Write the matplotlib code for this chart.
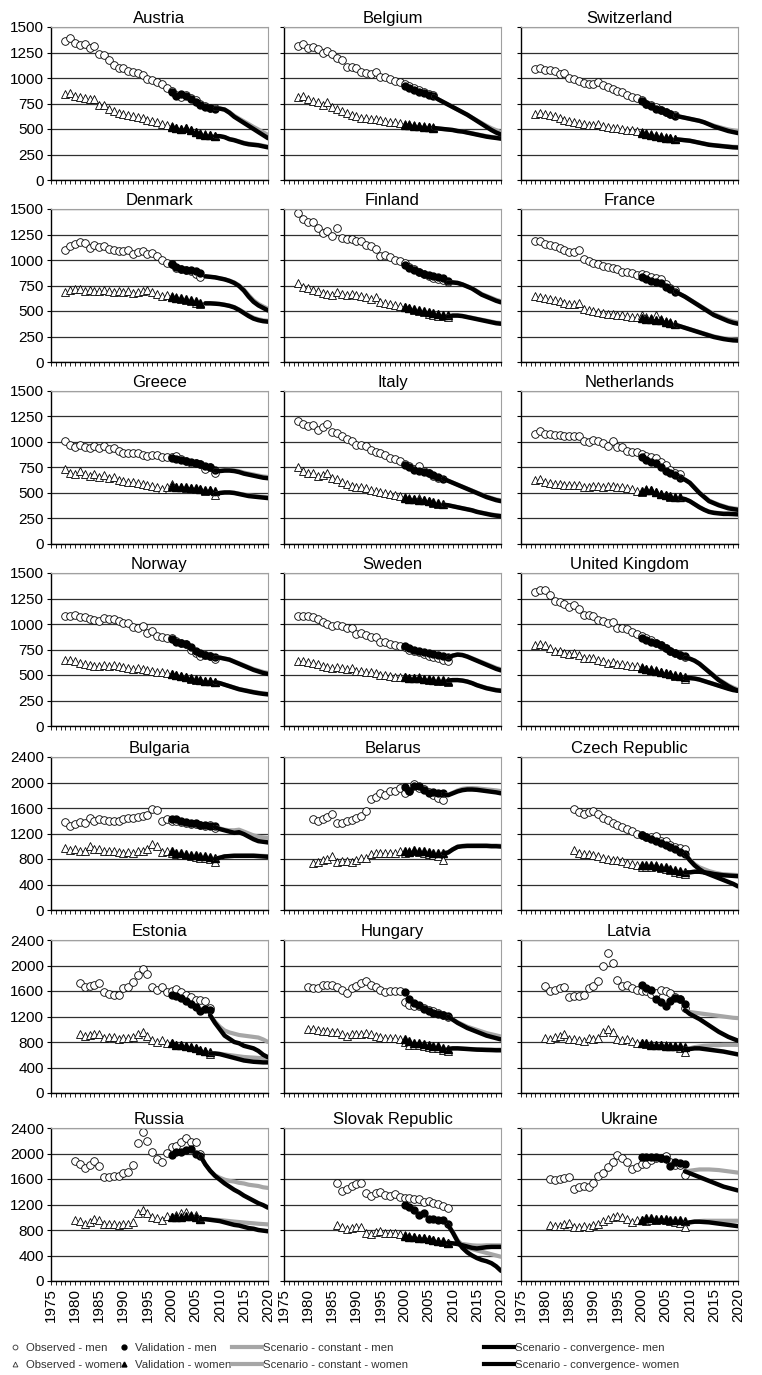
import matplotlib
matplotlib.use("Agg")
import matplotlib.pyplot as plt
from matplotlib.lines import Line2D
from matplotlib.ticker import MultipleLocator

plt.rcParams['font.family'] = ['Liberation Sans', 'DejaVu Sans']

countries = ["Austria", "Belgium", "Switzerland",
             "Denmark", "Finland", "France",
             "Greece", "Italy", "Netherlands",
             "Norway", "Sweden", "United Kingdom",
             "Bulgaria", "Belarus", "Czech Republic",
             "Estonia", "Hungary", "Latvia",
             "Russia", "Slovak Republic", "Ukraine"]

# first year of the observed series
obs_start = {"Austria": 1978, "Belgium": 1978, "Switzerland": 1978, "Denmark": 1978,
             "Finland": 1978, "France": 1978, "Greece": 1978, "Italy": 1978,
             "Netherlands": 1978, "Norway": 1978, "Sweden": 1978, "United Kingdom": 1978,
             "Bulgaria": 1978, "Belarus": 1981, "Czech Republic": 1986, "Estonia": 1981,
             "Hungary": 1980, "Latvia": 1980, "Russia": 1980, "Slovak Republic": 1986,
             "Ukraine": 1981}

obs_men = {
    "Austria": [1360, 1390, 1340, 1320, 1330, 1295, 1310, 1240, 1230, 1180, 1130, 1100, 1100, 1070, 1060, 1050,
                1030, 990, 980, 960, 940, 900, 870, 830, 810, 830, 800, 780, 750, 730, 710, 705],
    "Belgium": [1314, 1333, 1290, 1300, 1285, 1250, 1265, 1235, 1200, 1175, 1110, 1110, 1100, 1060, 1050, 1040,
                1060, 1010, 1010, 990, 975, 960, 940, 920, 900, 880, 860, 840, 830],
    "Switzerland": [1090, 1100, 1080, 1080, 1070, 1040, 1050, 1000, 990, 970, 950, 940, 940, 960, 930, 910,
                    890, 870, 860, 830, 810, 800, 780, 750, 740, 720, 690, 670, 650, 640],
    "Denmark": [1100, 1140, 1160, 1180, 1170, 1120, 1150, 1130, 1140, 1110, 1100, 1090, 1090, 1100, 1060, 1080,
                1090, 1060, 1070, 1040, 1000, 970, 960, 920, 910, 900, 890, 860, 830],
    "Finland": [1460, 1400, 1370, 1370, 1310, 1260, 1280, 1240, 1310, 1220, 1210, 1210, 1190, 1190, 1150, 1140,
                1110, 1040, 1050, 1030, 1000, 990, 970, 930, 910, 880, 860, 840, 820, 810, 800, 780],
    "France": [1185, 1190, 1160, 1150, 1140, 1120, 1100, 1080, 1080, 1100, 1010, 990, 970, 960, 940, 930,
               920, 910, 880, 880, 870, 850, 860, 850, 830, 820, 810, 760, 730, 710],
    "Greece": [1010, 970, 950, 975, 950, 940, 960, 940, 960, 930, 940, 910, 890, 890, 890, 890,
               870, 860, 870, 870, 850, 850, 850, 860, 830, 810, 790, 790, 780, 740, 750, 700],
    "Italy": [1210, 1180, 1160, 1170, 1120, 1150, 1180, 1100, 1090, 1060, 1030, 1010, 970, 970, 960, 920,
              900, 890, 870, 840, 830, 810, 780, 760, 740, 760, 720, 700, 670, 650],
    "Netherlands": [1080, 1110, 1080, 1080, 1070, 1070, 1060, 1060, 1060, 1060, 1010, 1000, 1020, 1010, 990, 960,
                    1010, 950, 950, 910, 900, 900, 880, 860, 850, 840, 800, 770, 730, 700, 690],
    "Norway": [1080, 1080, 1090, 1070, 1070, 1050, 1040, 1030, 1060, 1050, 1050, 1030, 1010, 1010, 970, 960,
               980, 910, 930, 880, 870, 860, 860, 830, 810, 800, 750, 720, 690, 700, 690, 660],
    "Sweden": [1080, 1080, 1080, 1070, 1050, 1020, 1000, 980, 990, 980, 960, 960, 900, 910, 890, 870,
               870, 820, 820, 800, 790, 780, 770, 750, 740, 730, 710, 690, 680, 670, 650, 640],
    "United Kingdom": [1310, 1330, 1330, 1280, 1230, 1220, 1200, 1170, 1190, 1150, 1090, 1090, 1080, 1040, 1030,
                       1010, 1020, 960, 960, 950, 920, 900, 880, 860, 840, 810, 790, 760, 740, 720, 700, 680],
    "Bulgaria": [1380, 1310, 1350, 1380, 1360, 1440, 1400, 1420, 1410, 1400, 1390, 1390, 1420, 1440, 1450, 1460,
                 1470, 1490, 1580, 1570, 1400, 1420, 1400, 1390, 1380, 1370, 1350, 1350, 1340, 1320, 1330, 1280],
    "Belarus": [1430, 1400, 1430, 1460, 1500, 1360, 1370, 1390, 1410, 1440, 1480, 1560, 1740, 1770, 1830, 1800,
                1860, 1870, 1920, 1830, 1870, 1980, 1920, 1900, 1850, 1800, 1760, 1730],
    "Czech Republic": [1580, 1540, 1510, 1530, 1560, 1500, 1450, 1410, 1370, 1340, 1300, 1270, 1240, 1200, 1180,
                       1150, 1140, 1160, 1090, 1080, 1020, 990, 970, 960],
    "Estonia": [1720, 1660, 1680, 1700, 1720, 1580, 1550, 1540, 1530, 1640, 1660, 1740, 1850, 1950, 1860, 1670,
                1610, 1670, 1590, 1600, 1630, 1590, 1540, 1510, 1460, 1460, 1450, 1340],
    "Hungary": [1660, 1650, 1650, 1700, 1690, 1690, 1670, 1620, 1570, 1640, 1680, 1720, 1750, 1700, 1670, 1620,
                1590, 1600, 1600, 1600, 1430, 1380, 1360, 1360, 1330, 1300, 1280, 1250, 1220, 1200],
    "Latvia": [1680, 1600, 1620, 1650, 1660, 1500, 1520, 1520, 1540, 1650, 1680, 1760, 2000, 2190, 2040, 1770,
               1680, 1690, 1650, 1620, 1600, 1600, 1560, 1570, 1610, 1600, 1570, 1500, 1470, 1330],
    "Russia": [1880, 1840, 1780, 1820, 1880, 1810, 1630, 1630, 1640, 1650, 1700, 1710, 1820, 2170, 2330, 2200,
               2030, 1910, 1870, 2010, 2100, 2120, 2180, 2250, 2180, 2180, 2000],
    "Slovak Republic": [1530, 1410, 1450, 1490, 1520, 1530, 1380, 1340, 1380, 1390, 1350, 1340, 1360, 1320, 1300,
                        1300, 1290, 1290, 1240, 1260, 1230, 1210, 1180, 1140],
    "Ukraine": [1600, 1580, 1600, 1610, 1630, 1450, 1480, 1490, 1480, 1540, 1640, 1700, 1790, 1870, 1970, 1930,
                1870, 1750, 1790, 1840, 1830, 1900, 1930, 1930, 1960, 1870, 1820, 1820, 1670],
}

obs_women = {
    "Austria": [845, 850, 820, 810, 800, 790, 790, 740, 740, 700, 680, 660, 650, 640, 630, 620,
                610, 590, 580, 570, 550, 540, 530, 510, 500, 510, 490, 470, 460, 450, 440, 430],
    "Belgium": [810, 820, 790, 770, 760, 740, 760, 720, 700, 680, 660, 640, 630, 610, 610, 600,
                600, 590, 580, 570, 570, 560, 550, 545, 540, 530, 525, 520, 515],
    "Switzerland": [650, 655, 650, 640, 625, 610, 590, 575, 565, 555, 545, 540, 540, 550, 530, 520,
                    510, 505, 500, 495, 490, 480, 470, 460, 450, 440, 430, 420, 415, 405],
    "Denmark": [690, 710, 720, 720, 700, 710, 700, 700, 710, 700, 690, 700, 690, 700, 680, 690,
                700, 710, 690, 670, 650, 660, 650, 640, 620, 610, 600, 580, 570],
    "Finland": [770, 740, 730, 710, 700, 680, 670, 660, 690, 670, 660, 670, 660, 650, 640, 620,
                640, 590, 580, 570, 560, 550, 540, 530, 510, 500, 490, 470, 460, 450, 450, 440],
    "France": [645, 640, 625, 620, 610, 600, 580, 570, 570, 580, 520, 510, 500, 490, 480, 475,
               470, 460, 460, 450, 445, 440, 460, 440, 430, 460, 420, 400, 390, 370],
    "Greece": [740, 700, 690, 720, 690, 670, 690, 660, 680, 650, 660, 630, 620, 610, 610, 600,
               590, 580, 570, 560, 540, 560, 590, 560, 560, 550, 550, 540, 540, 520, 530, 480],
    "Italy": [750, 720, 700, 700, 670, 680, 700, 650, 640, 610, 590, 570, 560, 560, 550, 530,
              520, 510, 500, 490, 480, 470, 460, 450, 440, 450, 430, 420, 400, 390],
    "Netherlands": [630, 640, 610, 600, 590, 590, 580, 580, 580, 580, 560, 560, 570, 570, 560, 570,
                    570, 560, 560, 550, 540, 520, 510, 540, 530, 510, 490, 480, 460, 460, 460],
    "Norway": [650, 650, 640, 620, 610, 600, 590, 590, 600, 590, 600, 590, 580, 570, 560, 570,
               560, 550, 540, 530, 530, 520, 510, 500, 490, 480, 460, 450, 450, 440, 440, 430],
    "Sweden": [640, 640, 630, 620, 610, 590, 580, 570, 580, 570, 560, 570, 540, 540, 530, 530,
               520, 500, 500, 490, 480, 480, 480, 470, 470, 480, 460, 450, 450, 440, 440, 430],
    "United Kingdom": [790, 800, 790, 760, 740, 740, 720, 710, 720, 700, 670, 670, 670, 650, 640, 620,
                       630, 610, 610, 600, 590, 590, 580, 560, 560, 550, 530, 520, 510, 490, 490, 460],
    "Bulgaria": [970, 940, 950, 930, 920, 1000, 960, 950, 930, 920, 920, 910, 900, 910, 900, 920,
                 930, 960, 1030, 1000, 910, 920, 900, 880, 870, 860, 840, 830, 820, 810, 800, 760],
    "Belarus": [740, 750, 780, 800, 840, 760, 770, 770, 760, 790, 810, 820, 880, 890, 890, 890,
                890, 900, 920, 900, 920, 920, 910, 900, 880, 860, 850, 790],
    "Czech Republic": [940, 900, 880, 880, 870, 840, 820, 800, 790, 780, 770, 740, 720, 700, 680, 670,
                       680, 700, 660, 650, 620, 600, 580, 560],
    "Estonia": [920, 890, 910, 920, 930, 870, 880, 880, 850, 870, 870, 880, 930, 960, 900, 830,
                800, 830, 780, 780, 760, 760, 740, 720, 700, 680, 660, 610],
    "Hungary": [1010, 1000, 990, 980, 970, 960, 950, 920, 900, 920, 930, 930, 940, 920, 900, 880,
                870, 860, 860, 850, 800, 750, 760, 760, 740, 720, 700, 700, 680, 660],
    "Latvia": [870, 840, 880, 900, 920, 850, 840, 830, 820, 860, 850, 860, 960, 1000, 950, 840,
               830, 850, 810, 790, 780, 770, 770, 760, 760, 760, 740, 730, 700, 650],
    "Russia": [960, 940, 900, 930, 980, 960, 890, 900, 900, 880, 890, 890, 930, 1060, 1110, 1060,
               1010, 990, 960, 1020, 1010, 1040, 1060, 1080, 1040, 1030, 970],
    "Slovak Republic": [880, 840, 810, 830, 840, 840, 750, 730, 770, 780, 750, 750, 760, 730, 720, 700,
                        690, 680, 670, 660, 650, 630, 610, 600],
    "Ukraine": [880, 860, 870, 890, 910, 840, 850, 860, 840, 880, 900, 940, 970, 1000, 1020, 1000,
                970, 930, 950, 960, 940, 960, 960, 970, 960, 940, 920, 910, 850],
}

# validation series, all starting in 2000
val_men = {
    "Austria": [860, 820, 840, 820, 790, 760, 740, 720, 710, 700],
    "Belgium": [920, 900, 880, 860, 850, 830, 820],
    "Switzerland": [770, 750, 730, 700, 690, 670, 650, 630],
    "Denmark": [960, 930, 910, 900, 900, 890, 870],
    "Finland": [950, 920, 900, 880, 860, 850, 840, 830, 820, 790],
    "France": [830, 810, 790, 780, 770, 740, 720, 690],
    "Greece": [840, 830, 820, 810, 800, 790, 780, 760, 750, 730],
    "Italy": [770, 750, 730, 720, 710, 700, 680, 660, 640],
    "Netherlands": [850, 820, 800, 790, 750, 720, 700, 680, 650],
    "Norway": [850, 820, 810, 800, 770, 740, 720, 700, 690, 680],
    "Sweden": [780, 760, 750, 740, 730, 720, 710, 700, 690, 680],
    "United Kingdom": [860, 840, 820, 810, 790, 760, 740, 720, 700, 690],
    "Bulgaria": [1430, 1420, 1400, 1380, 1370, 1360, 1340, 1330, 1320, 1320],
    "Belarus": [1930, 1860, 1950, 1940, 1890, 1840, 1850, 1840, 1830],
    "Czech Republic": [1180, 1140, 1110, 1080, 1050, 1020, 990, 950, 910, 880],
    "Estonia": [1540, 1520, 1490, 1450, 1400, 1350, 1290, 1320, 1300],
    "Hungary": [1590, 1480, 1410, 1380, 1320, 1290, 1260, 1240, 1230, 1210],
    "Latvia": [1690, 1640, 1610, 1480, 1420, 1360, 1440, 1490, 1470, 1400],
    "Russia": [1980, 2020, 2030, 2050, 2070, 2000, 1960],
    "Slovak Republic": [1200, 1160, 1110, 1030, 1060, 970, 980, 960, 960, 900],
    "Ukraine": [1940, 1950, 1950, 1940, 1930, 1920, 1800, 1860, 1850, 1840],
}

val_women = {
    "Austria": [520, 505, 500, 510, 490, 470, 455, 445, 440, 430],
    "Belgium": [540, 535, 530, 525, 520, 515, 510],
    "Switzerland": [460, 450, 440, 435, 425, 415, 410, 400],
    "Denmark": [640, 630, 630, 620, 610, 600, 580],
    "Finland": [540, 530, 520, 510, 500, 490, 480, 470, 465, 460],
    "France": [430, 420, 420, 410, 410, 390, 380, 370],
    "Greece": [570, 560, 560, 555, 550, 545, 540, 530, 525, 515],
    "Italy": [450, 440, 440, 430, 430, 420, 410, 400, 390],
    "Netherlands": [520, 530, 530, 510, 490, 480, 470, 460, 460],
    "Norway": [510, 500, 490, 480, 470, 460, 450, 440, 440, 430],
    "Sweden": [480, 475, 475, 470, 465, 460, 455, 450, 450, 445],
    "United Kingdom": [570, 560, 550, 540, 530, 520, 510, 500, 490, 480],
    "Bulgaria": [920, 900, 890, 880, 870, 860, 850, 840, 830, 820],
    "Belarus": [930, 910, 940, 930, 920, 910, 900, 900, 900],
    "Czech Republic": [710, 700, 700, 690, 680, 670, 650, 630, 610, 600],
    "Estonia": [780, 760, 750, 740, 720, 700, 680, 660, 650],
    "Hungary": [850, 820, 790, 780, 770, 760, 740, 730, 710, 690],
    "Latvia": [790, 780, 760, 760, 750, 740, 740, 740, 740, 720],
    "Russia": [1000, 1000, 1010, 1020, 1020, 1000, 980],
    "Slovak Republic": [700, 690, 690, 680, 670, 660, 650, 630, 620, 600],
    "Ukraine": [960, 990, 990, 980, 980, 970, 960, 960, 950, 940],
}

# first year of the scenario lines (they all end in 2020)
scen_start = {"Austria": 2009, "Belgium": 2006, "Switzerland": 2007, "Denmark": 2007,
              "Finland": 2009, "France": 2007, "Greece": 2009, "Italy": 2008,
              "Netherlands": 2008, "Norway": 2009, "Sweden": 2009, "United Kingdom": 2009,
              "Bulgaria": 2009, "Belarus": 2008, "Czech Republic": 2009, "Estonia": 2008,
              "Hungary": 2009, "Latvia": 2009, "Russia": 2006, "Slovak Republic": 2009,
              "Ukraine": 2009}

conv_men = {
    "Austria": [700, 700, 690, 660, 620, 590, 560, 530, 500, 470, 440, 410],
    "Belgium": [820, 790, 765, 740, 715, 690, 665, 640, 610, 580, 550, 520, 490, 465, 445],
    "Switzerland": [630, 620, 610, 600, 590, 580, 565, 545, 525, 510, 495, 480, 470, 460],
    "Denmark": [840, 835, 830, 820, 810, 795, 775, 745, 700, 640, 590, 555, 530, 505],
    "Finland": [780, 780, 775, 760, 740, 720, 690, 660, 640, 620, 600, 585],
    "France": [690, 665, 640, 610, 580, 550, 520, 490, 460, 440, 420, 400, 385, 375],
    "Greece": [720, 715, 720, 720, 715, 705, 690, 680, 670, 660, 650, 645],
    "Italy": [640, 620, 600, 580, 560, 540, 520, 500, 480, 460, 445, 430, 420],
    "Netherlands": [650, 630, 600, 550, 500, 460, 420, 400, 380, 365, 350, 342, 335],
    "Norway": [670, 670, 660, 650, 630, 610, 590, 570, 550, 535, 520, 510],
    "Sweden": [670, 690, 700, 695, 680, 660, 640, 620, 600, 580, 560, 545],
    "United Kingdom": [670, 660, 640, 610, 570, 530, 490, 450, 420, 390, 365, 345],
    "Bulgaria": [1300, 1270, 1250, 1230, 1210, 1220, 1190, 1150, 1110, 1080, 1070, 1060],
    "Belarus": [1820, 1800, 1830, 1860, 1880, 1890, 1890, 1885, 1875, 1865, 1855, 1845, 1830],
    "Czech Republic": [880, 780, 700, 640, 590, 560, 530, 500, 470, 440, 410, 370],
    "Estonia": [1220, 1100, 1000, 900, 850, 800, 780, 740, 720, 700, 660, 600, 560],
    "Hungary": [1200, 1150, 1100, 1060, 1020, 990, 960, 930, 900, 880, 860, 840],
    "Latvia": [1300, 1240, 1200, 1160, 1110, 1060, 1010, 960, 920, 880, 850, 820],
    "Russia": [1960, 1830, 1730, 1650, 1590, 1530, 1480, 1430, 1390, 1340, 1300, 1260, 1220, 1190, 1150],
    "Slovak Republic": [880, 760, 620, 520, 450, 400, 360, 330, 310, 280, 230, 160],
    "Ukraine": [1720, 1690, 1660, 1630, 1600, 1570, 1540, 1510, 1480, 1460, 1440, 1420],
}

const_men = {
    "Austria": [700, 700, 692, 665, 630, 602, 575, 548, 520, 495, 468, 442],
    "Belgium": [820, 790, 765, 740, 715, 690, 665, 640, 612, 585, 558, 532, 508, 488, 470],
    "Switzerland": [630, 620, 610, 600, 590, 580, 567, 550, 533, 520, 507, 495, 487, 480],
    "Denmark": [840, 835, 830, 821, 812, 798, 780, 752, 710, 655, 605, 570, 545, 522],
    "Finland": [780, 780, 776, 762, 743, 724, 696, 667, 648, 629, 610, 596],
    "France": [690, 666, 642, 613, 584, 555, 526, 497, 469, 450, 431, 413, 399, 390],
    "Greece": [720, 718, 725, 727, 723, 714, 700, 690, 681, 671, 662, 657],
    "Italy": [640, 621, 602, 582, 563, 543, 524, 504, 485, 466, 451, 437, 428],
    "Netherlands": [650, 631, 602, 553, 504, 465, 426, 406, 387, 372, 358, 350, 344],
    "Norway": [670, 671, 662, 653, 634, 615, 596, 577, 558, 544, 530, 521],
    "Sweden": [670, 691, 702, 698, 684, 665, 646, 627, 608, 589, 570, 556],
    "United Kingdom": [670, 661, 642, 613, 574, 535, 496, 458, 429, 400, 377, 358],
    "Bulgaria": [1300, 1280, 1260, 1250, 1250, 1260, 1230, 1200, 1170, 1150, 1140, 1130],
    "Belarus": [1820, 1805, 1840, 1875, 1900, 1910, 1912, 1908, 1900, 1892, 1884, 1876, 1865],
    "Czech Republic": [880, 790, 720, 670, 640, 610, 590, 570, 560, 550, 545, 540],
    "Estonia": [1220, 1120, 1040, 980, 950, 930, 910, 900, 890, 880, 870, 840, 800],
    "Hungary": [1200, 1155, 1110, 1075, 1040, 1015, 990, 965, 940, 922, 904, 886],
    "Latvia": [1300, 1270, 1260, 1250, 1240, 1230, 1220, 1210, 1200, 1190, 1180, 1175],
    "Russia": [1960, 1830, 1730, 1660, 1620, 1590, 1570, 1560, 1540, 1530, 1510, 1500, 1490, 1470, 1460],
    "Slovak Republic": [880, 770, 640, 560, 520, 500, 480, 460, 440, 420, 400, 380],
    "Ukraine": [1720, 1730, 1740, 1750, 1750, 1750, 1745, 1740, 1730, 1720, 1710, 1700],
}

conv_women = {
    "Austria": [430, 430, 420, 400, 390, 375, 360, 350, 345, 340, 330, 320],
    "Belgium": [510, 505, 500, 495, 490, 480, 475, 465, 455, 445, 435, 425, 418, 412, 405],
    "Switzerland": [400, 395, 390, 385, 375, 365, 355, 345, 340, 335, 330, 325, 320, 318],
    "Denmark": [575, 575, 572, 568, 560, 550, 535, 510, 480, 450, 425, 410, 400, 395],
    "Finland": [445, 455, 455, 450, 440, 430, 420, 410, 400, 390, 380, 375],
    "France": [365, 350, 335, 320, 305, 290, 275, 260, 245, 235, 225, 218, 212, 210],
    "Greece": [490, 500, 505, 505, 500, 490, 480, 470, 465, 460, 455, 450],
    "Italy": [385, 380, 370, 360, 350, 340, 330, 315, 305, 295, 285, 278, 272],
    "Netherlands": [450, 440, 420, 390, 360, 335, 315, 305, 300, 295, 295, 293, 290],
    "Norway": [430, 420, 405, 390, 375, 360, 350, 340, 330, 322, 315, 310],
    "Sweden": [445, 450, 450, 445, 435, 420, 400, 385, 370, 360, 350, 345],
    "United Kingdom": [470, 470, 465, 455, 440, 425, 410, 395, 380, 365, 352, 345],
    "Bulgaria": [800, 820, 840, 845, 850, 850, 850, 850, 850, 845, 840, 835],
    "Belarus": [890, 900, 950, 990, 1000, 1005, 1005, 1005, 1005, 1005, 1000, 1000, 995],
    "Czech Republic": [590, 590, 600, 600, 590, 580, 565, 555, 545, 540, 535, 530],
    "Estonia": [620, 620, 610, 590, 570, 550, 530, 510, 500, 490, 485, 480, 480],
    "Hungary": [690, 700, 700, 695, 690, 685, 680, 678, 675, 673, 670, 670],
    "Latvia": [690, 690, 700, 700, 690, 680, 670, 660, 650, 635, 620, 605],
    "Russia": [970, 970, 960, 950, 940, 920, 900, 880, 870, 850, 830, 820, 800, 790, 780],
    "Slovak Republic": [600, 590, 580, 560, 540, 520, 510, 520, 530, 535, 535, 535],
    "Ukraine": [900, 920, 930, 930, 925, 920, 910, 900, 890, 880, 870, 860],
}

const_women = {
    "Austria": [430, 430, 422, 403, 393, 379, 365, 356, 350, 345, 336, 327],
    "Belgium": [510, 505, 500, 495, 490, 481, 476, 467, 458, 448, 439, 430, 423, 417, 411],
    "Switzerland": [400, 395, 390, 385, 376, 366, 357, 348, 343, 338, 334, 330, 326, 324],
    "Denmark": [575, 575, 573, 569, 562, 553, 539, 515, 487, 458, 434, 419, 409, 404],
    "Finland": [445, 455, 456, 452, 443, 434, 424, 415, 406, 396, 387, 382],
    "France": [365, 351, 337, 322, 308, 294, 279, 265, 251, 241, 232, 225, 220, 218],
    "Greece": [490, 501, 507, 508, 503, 494, 485, 476, 471, 466, 462, 458],
    "Italy": [385, 380, 371, 361, 351, 342, 332, 318, 308, 299, 290, 283, 278],
    "Netherlands": [450, 440, 421, 392, 362, 338, 318, 309, 304, 300, 300, 298, 296],
    "Norway": [430, 421, 406, 392, 377, 363, 353, 344, 335, 327, 320, 316],
    "Sweden": [445, 450, 451, 446, 437, 422, 403, 388, 374, 364, 355, 350],
    "United Kingdom": [470, 470, 466, 456, 442, 427, 413, 398, 384, 370, 358, 351],
    "Bulgaria": [800, 822, 843, 849, 855, 856, 857, 857, 857, 853, 849, 845],
    "Belarus": [890, 902, 954, 995, 1007, 1013, 1014, 1015, 1015, 1015, 1011, 1011, 1007],
    "Czech Republic": [590, 592, 604, 606, 598, 590, 577, 568, 560, 556, 552, 548],
    "Estonia": [620, 620, 615, 605, 595, 585, 575, 565, 560, 555, 550, 545, 540],
    "Hungary": [690, 701, 702, 698, 694, 690, 686, 685, 683, 682, 680, 681],
    "Latvia": [690, 700, 720, 730, 740, 745, 750, 750, 755, 755, 755, 755],
    "Russia": [970, 970, 965, 960, 955, 948, 940, 932, 925, 918, 911, 905, 898, 893, 888],
    "Slovak Republic": [600, 595, 590, 580, 570, 560, 555, 555, 560, 560, 560, 560],
    "Ukraine": [900, 920, 935, 940, 945, 945, 945, 945, 945, 945, 945, 945],
}

W, H = 762, 1375
fig = plt.figure(figsize=(W / 100, H / 100), dpi=100)

col_left = [51, 284, 521]       # px
row_bottom = [180, 362, 544, 726, 910, 1093, 1281]   # px from top
ax_w, ax_h = 217, 153


def years(start, n):
    return list(range(start, start + n))


for i, c in enumerate(countries):
    r, k = divmod(i, 3)
    ax = fig.add_axes([col_left[k] / W, 1 - row_bottom[r] / H, ax_w / W, ax_h / H])
    ymax = 1500 if r < 4 else 2400
    ystep = 250 if r < 4 else 400

    # scenarios
    sy = years(scen_start[c], len(conv_men[c]))
    ax.plot(sy, const_men[c], color='#a6a6a6', lw=3, solid_capstyle='round', zorder=4)
    ax.plot(sy, const_women[c], color='#a6a6a6', lw=3, solid_capstyle='round', zorder=4)
    ax.plot(sy, conv_men[c], color='black', lw=3.2, solid_capstyle='round', zorder=5)
    ax.plot(sy, conv_women[c], color='black', lw=3.2, solid_capstyle='round', zorder=5)

    # observed
    oy = years(obs_start[c], len(obs_men[c]))
    ax.plot(oy, obs_men[c], 'o', ms=5.5, mfc='white', mec='black', mew=0.6, zorder=2)
    ax.plot(oy, obs_women[c], '^', ms=5.5, mfc='white', mec='black', mew=0.6, zorder=2)

    # validation
    vy = years(2000, len(val_men[c]))
    ax.plot(vy, val_men[c], 'o', ms=5, color='black', zorder=3)
    ax.plot(vy, val_women[c], '^', ms=5.5, color='black', zorder=3)

    ax.set_xlim(1975, 2020)
    ax.set_ylim(0, ymax)
    ax.yaxis.set_major_locator(MultipleLocator(ystep))
    ax.xaxis.set_major_locator(MultipleLocator(5))
    ax.xaxis.set_minor_locator(MultipleLocator(1))
    ax.grid(axis='y', color='#303030', lw=0.9)
    ax.set_axisbelow(True)
    for s in ['top', 'right']:
        ax.spines[s].set_color('#a0a0a0')
        ax.spines[s].set_linewidth(0.8)
    for s in ['left', 'bottom']:
        ax.spines[s].set_color('black')
        ax.spines[s].set_linewidth(1)
    ax.tick_params(axis='x', which='both', direction='out', length=3, width=0.6)
    ax.tick_params(axis='y', direction='out', length=3, width=0.8, labelsize=11, pad=2)
    if k > 0:
        ax.tick_params(axis='y', labelleft=False)
    if r < 6:
        ax.tick_params(axis='x', labelbottom=False)
    else:
        ax.tick_params(axis='x', labelsize=11, labelrotation=90, pad=2)
    ax.set_title(c, fontsize=12, pad=3)

# legend, four blocks of two entries
blocks = [
    ([Line2D([], [], ls='', marker='o', ms=3.5, mfc='white', mec='#333333', mew=0.6),
      Line2D([], [], ls='', marker='^', ms=3.5, mfc='white', mec='#333333', mew=0.6)],
     ["Observed - men", "Observed - women"], 1),
    ([Line2D([], [], ls='', marker='o', ms=3.5, color='black'),
      Line2D([], [], ls='', marker='^', ms=3.5, color='black')],
     ["Validation - men", "Validation - women"], 110),
    ([Line2D([], [], color='#a6a6a6', lw=3), Line2D([], [], color='#a6a6a6', lw=3)],
     ["Scenario - constant - men", "Scenario - constant - women"], 224),
    ([Line2D([], [], color='black', lw=3), Line2D([], [], color='black', lw=3)],
     ["Scenario - convergence- men", "Scenario - convergence- women"], 476),
]
for handles, labels, x0 in blocks:
    is_line = handles[0].get_linestyle() != 'None'
    fig.legend(handles, labels, loc='upper left', bbox_to_anchor=(x0 / W, 1 - 1335 / H),
               frameon=False, fontsize=8.2, labelcolor='#333333',
               handlelength=2.6 if is_line else 1.0, handletextpad=0.1 if is_line else 0.5,
               labelspacing=0.6, borderpad=0.2)

fig.savefig("out.png", dpi=100)
